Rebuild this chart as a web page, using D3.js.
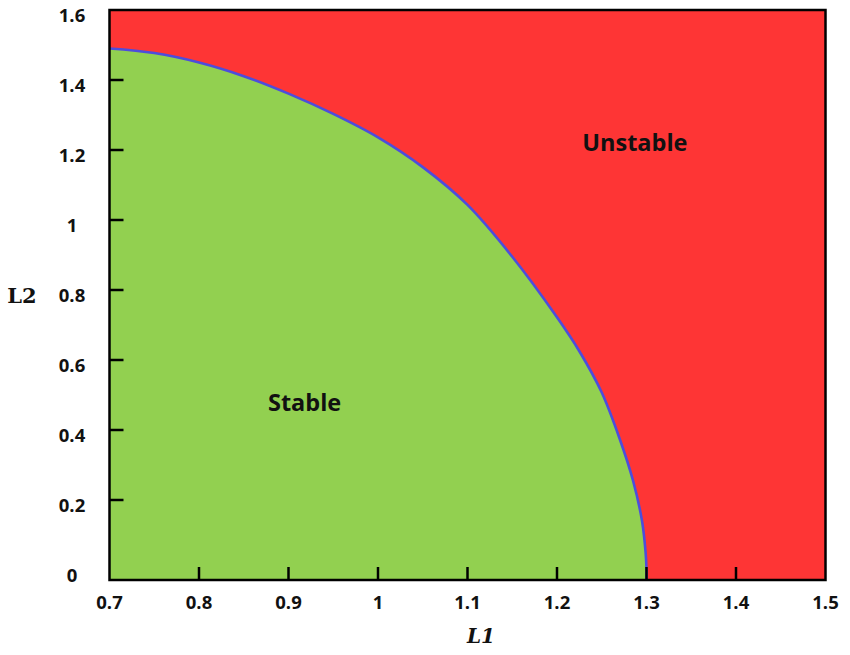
<!DOCTYPE html>
<html>
<head>
<meta charset="utf-8">
<script src="https://cdn.jsdelivr.net/npm/d3@7"></script>
<style>
html,body{margin:0;padding:0;background:#fff;}
svg{display:block;}
</style>
</head>
<body>
<svg id="chart" width="850" height="655"></svg>
<script>
// Stability boundary L2(L1)
const boundaryL1 = [0.70, 0.75, 0.80, 0.85, 0.90, 0.95, 1.00, 1.05, 1.10, 1.15, 1.20, 1.225, 1.25, 1.27, 1.285, 1.295, 1.299, 1.300];
const boundaryL2 = [1.490, 1.477, 1.450, 1.411, 1.361, 1.303, 1.236, 1.151, 1.043, 0.895, 0.722, 0.625, 0.507, 0.375, 0.255, 0.140, 0.050, 0.000];
const xTicks = [0.7, 0.8, 0.9, 1.0, 1.1, 1.2, 1.3, 1.4, 1.5];
const yTicks = [0, 0.2, 0.4, 0.6, 0.8, 1.0, 1.2, 1.4, 1.6];
const xTickLabels = ["0.7", "0.8", "0.9", "1", "1.1", "1.2", "1.3", "1.4", "1.5"];
const yTickLabels = ["0", "0.2", "0.4", "0.6", "0.8", "1", "1.2", "1.4", "1.6"];
const regionLabels = [{text: "Stable", l1: 0.918, l2: 0.455}, {text: "Unstable", l1: 1.287, l2: 1.197}];
const xTitle = "L1";
const yTitle = "L2";

const svg = d3.select("#chart");
const mLeft = 109.5, mRight = 825.5, mTop = 10, mBottom = 580;
const x = d3.scaleLinear().domain([0.7, 1.5]).range([mLeft, mRight]);
const y = d3.scaleLinear().domain([-0.0286, 1.6]).range([mBottom, mTop]);
const yMin = y.domain()[0];

const pts = boundaryL1.map((d, i) => [d, boundaryL2[i]]);
const curve = d3.curveCatmullRom.alpha(0.5);

// Red (unstable) background
svg.append("rect")
  .attr("x", x(0.7)).attr("y", y(1.6))
  .attr("width", x(1.5) - x(0.7)).attr("height", y(yMin) - y(1.6))
  .attr("fill", "#fe3535");

// Green (stable) area
const area = d3.area()
  .x(d => x(d[0]))
  .y0(y(yMin))
  .y1(d => y(d[1]))
  .curve(curve);
svg.append("path").datum(pts).attr("d", area).attr("fill", "#92d050");

// Boundary line
const line = d3.line().x(d => x(d[0])).y(d => y(d[1])).curve(curve);
svg.append("path").datum(pts).attr("d", line)
  .attr("fill", "none").attr("stroke", "#4d4ddc").attr("stroke-width", 2.6);
svg.append("line")
  .attr("x1", x(1.3)).attr("x2", x(1.3))
  .attr("y1", y(0)).attr("y2", y(yMin))
  .attr("stroke", "#4d4ddc").attr("stroke-width", 2.6);

// Inward ticks
svg.append("g").selectAll("line").data(xTicks.slice(1, -1)).join("line")
  .attr("x1", d => x(d)).attr("x2", d => x(d))
  .attr("y1", mBottom).attr("y2", mBottom - 13)
  .attr("stroke", "#000").attr("stroke-width", 2.5);
svg.append("g").selectAll("line").data(yTicks.slice(1, -1)).join("line")
  .attr("x1", mLeft).attr("x2", mLeft + 14)
  .attr("y1", d => y(d)).attr("y2", d => y(d))
  .attr("stroke", "#000").attr("stroke-width", 2.5);

// Frame
svg.append("rect")
  .attr("x", mLeft).attr("y", mTop)
  .attr("width", mRight - mLeft).attr("height", mBottom - mTop)
  .attr("fill", "none").attr("stroke", "#000").attr("stroke-width", 2.5);

// Tick labels
svg.append("g").selectAll("text").data(xTicks).join("text")
  .attr("x", d => x(d)).attr("y", 609)
  .attr("text-anchor", "middle")
  .attr("font-family", "'Open Sans', sans-serif").attr("font-weight", 700)
  .attr("font-size", 18.5).attr("fill", "#111")
  .text((d, i) => xTickLabels[i]);
svg.append("g").selectAll("text").data(yTicks).join("text")
  .attr("x", 72).attr("y", d => y(d) + 12)
  .attr("text-anchor", "middle")
  .attr("font-family", "'Open Sans', sans-serif").attr("font-weight", 700)
  .attr("font-size", 18.5).attr("fill", "#111")
  .text((d, i) => yTickLabels[i]);

// Region labels
svg.append("g").selectAll("text").data(regionLabels).join("text")
  .attr("x", d => x(d.l1)).attr("y", d => y(d.l2))
  .attr("text-anchor", "middle")
  .attr("font-family", "'Open Sans', sans-serif").attr("font-weight", 700)
  .attr("font-size", 23.5).attr("fill", "#111")
  .text(d => d.text);

// Axis titles
svg.append("text").attr("x", 22).attr("y", 303)
  .attr("text-anchor", "middle")
  .attr("font-family", "'DejaVu Serif', serif").attr("font-weight", 700)
  .attr("font-size", 21).attr("fill", "#111").text(yTitle);
svg.append("text").attr("x", 481).attr("y", 643)
  .attr("text-anchor", "middle")
  .attr("font-family", "'DejaVu Serif', serif").attr("font-weight", 700).attr("font-style", "italic")
  .attr("font-size", 20).attr("fill", "#111").text(xTitle);
</script>
</body>
</html>
